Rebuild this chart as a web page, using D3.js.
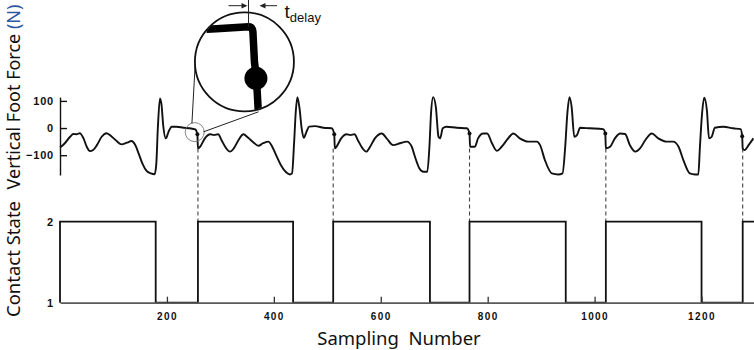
<!DOCTYPE html>
<html>
<head>
<meta charset="utf-8">
<script src="https://cdn.jsdelivr.net/npm/d3@7/dist/d3.min.js"></script>
<style>
  html, body { margin: 0; padding: 0; background: #fff; }
  svg { display: block; }
  .tick text { font-family: "Liberation Sans", Arial, sans-serif; font-weight: bold; fill: #111; }
  .lbl { font-family: "Noto Sans", "Open Sans", sans-serif; fill: #111; }
</style>
</head>
<body>
<svg id="chart" width="754" height="350"></svg>
<script>
// ---------- DATA ----------
// Vertical foot force (N) vs sampling number
const forceSamples = [0,9,19,25,31,37,44,50,56,62,69,78,87,97,106,115,125,134,140,147,154,162,170,177,180,183,187,190,193,198,203,209,218,231,243,253,257,258,
 262,271,281,288,296,302,311,318,325,334,343,352,362,371,380,390,396,404,413,423,430,434,438,441,444,448,452,456,461,466,477,493,508,513,514,
 517,526,536,543,551,557,566,573,580,589,602,611,623,636,649,658,664,672,680,687,691,694,698,703,708,711,716,723,742,761,766,767,
 776,782,792,799,808,817,826,836,848,860,876,892,898,907,920,932,940,945,949,953,957,962,967,973,991,1016,1020,1021,
 1029,1038,1048,1057,1066,1076,1085,1095,1107,1119,1135,1147,1157,1166,1178,1188,1194,1197,1201,1205,1210,1214,1219,1225,1241,1259,1273,1276,1277,1281,1288,1297];
const forceValues = [-72,-56,-32,-22,-23,-19,-38,-69,-85,-81,-63,-32,-19,-32,-48,-60,-54,-48,-60,-93,-130,-158,-167,-170,-136,-1,109,84,11,-38,-14,5,5,1,-1,-5,-23,-75,
 -69,-38,-23,-26,-23,-44,-75,-87,-75,-44,-23,-36,-53,-65,-56,-50,-65,-99,-136,-163,-171,-167,-50,60,114,73,-1,-36,-14,5,7,1,-1,-23,-75,
 -69,-38,-23,-26,-23,-44,-75,-87,-69,-38,-20,-38,-63,-56,-50,-69,-106,-148,-161,-161,-69,54,114,78,-32,-38,-1,5,1,-1,-20,-69,
 -69,-38,-20,-20,-56,-84,-69,-44,-20,-38,-50,-50,-63,-118,-167,-171,-167,-69,54,114,78,-32,-26,1,-1,-4,-20,-75,
 -69,-38,-20,-22,-63,-87,-75,-44,-20,-38,-50,-50,-69,-118,-167,-171,-171,-69,54,112,66,-38,-32,1,5,-1,-4,-30,-75,-81,-63,-38];

// Contact state (1 = swing, 2 = stance): sample where each state begins
const contactSamples = [0, 0, 179, 258, 436, 511, 692, 766, 946, 1021, 1200, 1277, 1300];
const contactStates  = [1, 2, 1,   2,   1,   2,   1,   2,   1,   2,    1,    2,    2];

// Heel-strike markers (dots on the force curve) and the sample of each strike
const strikeDotSamples = [257, 513, 766, 1020, 1276];
const strikeDotValues  = [-23, -23, -20, -20, -30];
const strikeSamples    = [258, 511, 766, 1021, 1277];
const strikeLowValue   = -75;

// Axis ticks
const forceTicks  = [-100, 0, 100];
const contactTicks = [1, 2];
const sampleTicks = [200, 400, 600, 800, 1000, 1200];

// Magnifier annotation (centred on a force sample)
const magnifySample = 252, magnifyValue = -15;

// ---------- DRAW ----------
const svg = d3.select("#chart");

const x = d3.scaleLinear().domain([0, 1300]).range([60, 755]);
const yF = d3.scaleLinear().domain([-173, 114]).range([175, 97.1]);
const yC = d3.scaleLinear().domain([1, 2]).range([302.7, 221.7]);

// Y axis labels
svg.append("text").attr("class", "lbl")
  .attr("transform", "translate(20,97) rotate(-90)")
  .attr("text-anchor", "middle")
  .attr("font-size", 18)
  .html('Vertical Foot Force <tspan fill="#2b56a0">(N)</tspan>');
svg.append("text").attr("class", "lbl")
  .attr("transform", "translate(20,259) rotate(-90)")
  .attr("text-anchor", "middle")
  .attr("font-size", 18.5)
  .text("Contact State");
svg.append("text").attr("class", "lbl")
  .attr("x", 399).attr("y", 345)
  .attr("text-anchor", "middle")
  .attr("font-size", 18.5)
  .attr("xml:space", "preserve")
  .text("Sampling  Number");

// Top axis
const gF = svg.append("g").attr("transform", `translate(${x(0)},0)`)
  .call(d3.axisLeft(yF).tickValues(forceTicks).tickSizeInner(-7).tickSizeOuter(0).tickPadding(6).tickFormat(d3.format("d")));
gF.select(".domain").attr("stroke", "#111").attr("stroke-width", 1.4);
gF.selectAll(".tick line").attr("stroke", "#111").attr("stroke-width", 1.4);
gF.selectAll(".tick text").attr("font-size", 11).attr("letter-spacing", "0.8px");

// Contact left labels
const gC = svg.append("g").attr("transform", `translate(${x(0)},0)`)
  .call(d3.axisLeft(yC).tickValues(contactTicks).tickSize(0).tickPadding(7).tickFormat(d3.format("d")));
gC.select(".domain").remove();
gC.selectAll(".tick text").attr("font-size", 11);

// Dashed strike lines
svg.append("g").selectAll("line").data(strikeSamples).join("line")
  .attr("x1", d => x(d)).attr("x2", d => x(d))
  .attr("y1", yF(strikeLowValue)).attr("y2", yC(2))
  .attr("stroke", "#444").attr("stroke-width", 1.1).attr("stroke-dasharray", "4,3");

// Contact state line
const contactData = contactSamples.map((s, i) => [s, contactStates[i]]);
svg.append("path").datum(contactData)
  .attr("fill", "none").attr("stroke", "#111").attr("stroke-width", 1.8)
  .attr("d", d3.line().x(d => x(d[0])).y(d => yC(d[1])).curve(d3.curveStepAfter));

// Bottom axis
const gX = svg.append("g").attr("transform", `translate(0,${yC(1)})`)
  .call(d3.axisBottom(x).tickValues(sampleTicks).tickSizeInner(-6).tickSizeOuter(0).tickPadding(10).tickFormat(d3.format("d")));
gX.select(".domain").attr("stroke", "#5a5a5a").attr("stroke-width", 1.8);
gX.selectAll(".tick line").attr("stroke", "#333").attr("stroke-width", 1.3);
gX.selectAll(".tick text").attr("font-size", 10).attr("letter-spacing", "1.4px");

// Force line
const forceData = forceSamples.map((s, i) => [s, forceValues[i]]);
svg.append("path").datum(forceData)
  .attr("fill", "none").attr("stroke", "#111").attr("stroke-width", 1.9)
  .attr("stroke-linejoin", "round")
  .attr("d", d3.line().x(d => x(d[0])).y(d => yF(d[1])).curve(d3.curveMonotoneX));

// Strike dots
svg.append("g").selectAll("circle").data(strikeDotSamples).join("circle")
  .attr("cx", d => x(d)).attr("cy", (d, i) => yF(strikeDotValues[i]))
  .attr("r", 2).attr("fill", "#111");

// ---------- MAGNIFIER ----------
const sx = x(magnifySample), sy = yF(magnifyValue);
const bx = sx + 49.7, by = sy - 70.3, br = 49.5;

svg.append("circle").attr("cx", sx).attr("cy", sy).attr("r", 9.5)
  .attr("fill", "none").attr("stroke", "#777").attr("stroke-width", 0.9);
// connecting lines
svg.append("line").attr("x1", sx - 2.8).attr("y1", sy - 8.7).attr("x2", bx - 49.2).attr("y2", by + 1.6)
  .attr("stroke", "#222").attr("stroke-width", 1);
svg.append("line").attr("x1", sx + 8.8).attr("y1", sy - 0.3).attr("x2", bx + 14.1).attr("y2", by + 50)
  .attr("stroke", "#222").attr("stroke-width", 1);

svg.append("clipPath").attr("id", "mclip").append("circle")
  .attr("cx", bx).attr("cy", by).attr("r", br - 0.5);
const mg = svg.append("g").attr("clip-path", "url(#mclip)");
mg.append("path")
  .attr("d", `M${bx - 38},${by - 32.5} L${bx - 28},${by - 33} L${bx + 4},${by - 35} Q${bx + 8},${by - 35} ${bx + 8.5},${by - 30} L${bx + 10},${by} L${bx + 12},${by + 16} L${bx + 14},${by + 52}`)
  .attr("fill", "none").attr("stroke", "#000").attr("stroke-width", 7.5).attr("stroke-linejoin", "round");
mg.append("circle").attr("cx", bx + 11.5).attr("cy", by + 16.5).attr("r", 11.5).attr("fill", "#000");
svg.append("circle").attr("cx", bx).attr("cy", by).attr("r", br)
  .attr("fill", "none").attr("stroke", "#111").attr("stroke-width", 1.8);

// t_delay annotation
const tx = bx + 4.1;
svg.append("line").attr("x1", tx).attr("x2", tx).attr("y1", 0).attr("y2", by - 35)
  .attr("stroke", "#222").attr("stroke-width", 1);
svg.append("line").attr("x1", tx - 20).attr("x2", tx - 3).attr("y1", 5.7).attr("y2", 5.7)
  .attr("stroke", "#222").attr("stroke-width", 1);
svg.append("path").attr("d", `M${tx - 1},5.7 L${tx - 7},3 L${tx - 7},8.4 Z`).attr("fill", "#222");
svg.append("line").attr("x1", tx + 13).attr("x2", tx + 28.5).attr("y1", 5.7).attr("y2", 5.7)
  .attr("stroke", "#222").attr("stroke-width", 1);
svg.append("path").attr("d", `M${tx + 11},5.7 L${tx + 17},3 L${tx + 17},8.4 Z`).attr("fill", "#222");

const tl = svg.append("text").attr("x", tx + 36).attr("y", 17.5)
  .attr("font-family", "'Liberation Sans', Arial, sans-serif").attr("fill", "#111").attr("font-size", 19);
tl.append("tspan").text("t");
tl.append("tspan").attr("font-size", 13).attr("dy", 4.5).text("delay");
</script>
</body>
</html>
